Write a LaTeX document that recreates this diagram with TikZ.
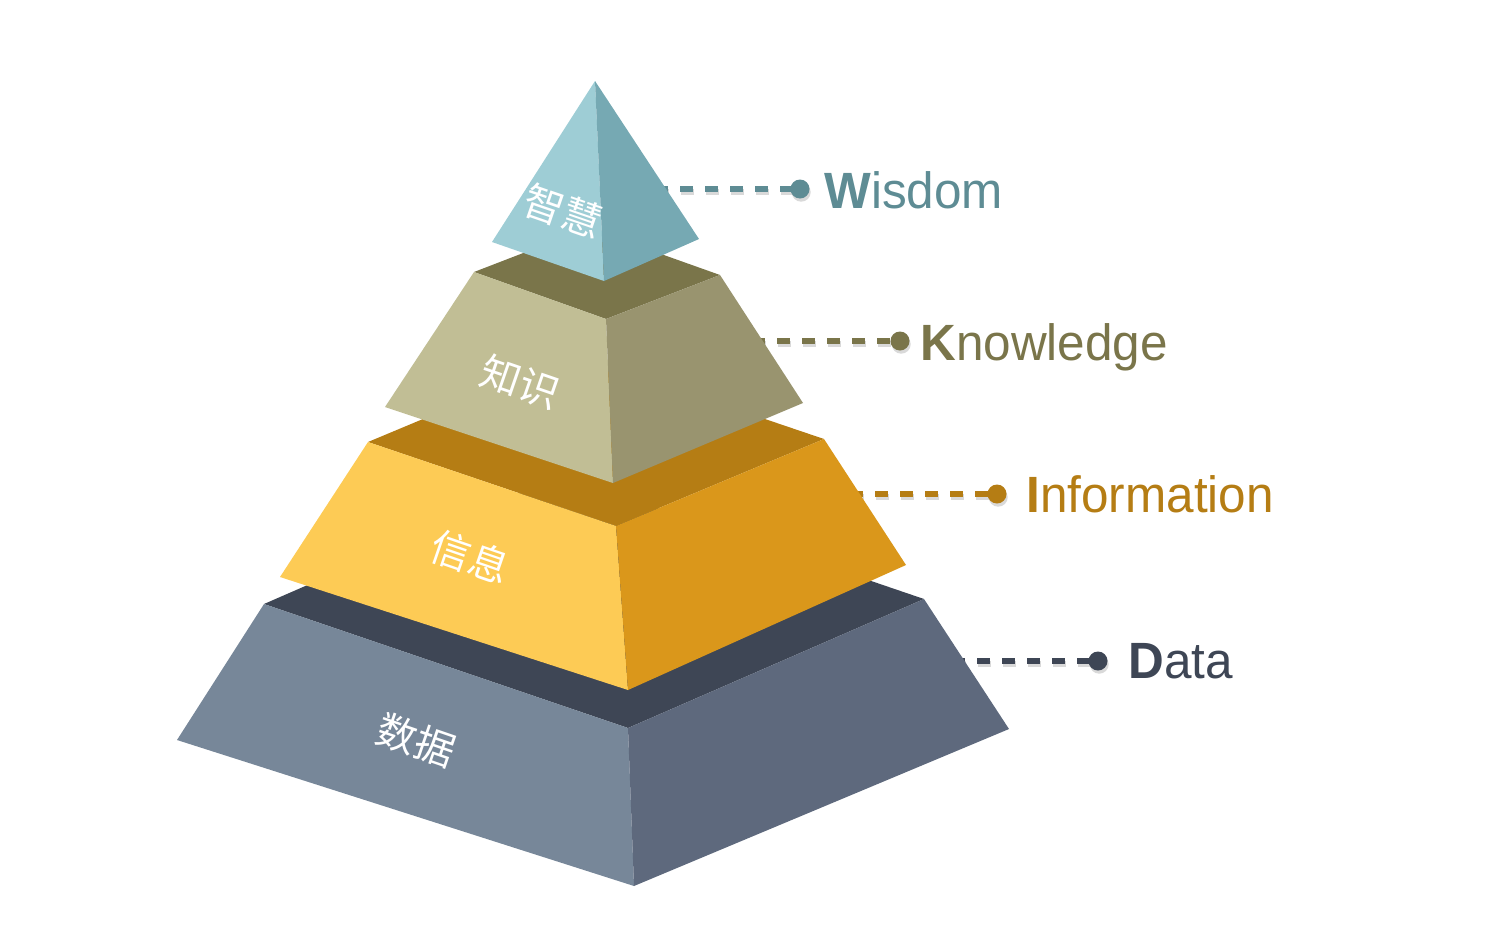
\documentclass[tikz,border=0pt]{standalone}
\usepackage{fontspec}
\setmainfont{Liberation Sans}
\newfontfamily\cjk{Noto Sans CJK SC}
\definecolor{wL}{HTML}{9ECDD5}
\definecolor{wR}{HTML}{76A9B3}
\definecolor{wT}{HTML}{5E8C94}
\definecolor{kT}{HTML}{7A754A}
\definecolor{kL}{HTML}{C1BE95}
\definecolor{kR}{HTML}{99946F}
\definecolor{iT}{HTML}{B57D14}
\definecolor{iL}{HTML}{FDCB55}
\definecolor{iR}{HTML}{DA971B}
\definecolor{dT}{HTML}{3E4655}
\definecolor{dL}{HTML}{778799}
\definecolor{dR}{HTML}{5E697D}
\tikzset{
  conn/.style={line width=3pt, dash pattern=on 6.5pt off 6pt},
  shadowconn/.style={conn, black, opacity=0.15, transform canvas={shift={(0.6pt,-1.6pt)}}},
  dotnode/.style={circle, inner sep=0pt, minimum size=9.5pt},
  shadowdot/.style={fill=black, opacity=0.15, transform canvas={shift={(0.6pt,-1.6pt)}}},
  lbl/.style={anchor=base west, inner sep=0pt, xscale=0.97, font=\fontsize{25.5}{25.5}\selectfont},
  cn/.style={text=white, rotate=-19, inner sep=0pt, font=\cjk\fontsize{20}{20}\selectfont},
}
\begin{document}
\begin{tikzpicture}[x=0.5pt,y=-0.5pt]
\useasboundingbox (0,0) rectangle (1498,937);
% ---------- connectors ----------
\coordinate (ws) at (655,189);
\coordinate (ks) at (752,341);
\coordinate (is) at (850,494);
\coordinate (ds) at (952,661);
\node[dotnode] (wd) at (800,189) {};
\node[dotnode] (kd) at (900,341) {};
\node[dotnode] (id) at (997,494) {};
\node[dotnode] (dd) at (1098,661) {};
\foreach \s/\d in {ws/wd,ks/kd,is/id,ds/dd}{
  \draw[shadowconn] (\s) -- (\d.center);
  \fill[shadowdot] (\d.center) circle (4.75pt);
}
\draw[conn, wT] (ws) -- (wd.center);
\draw[conn, kT] (ks) -- (kd.center);
\draw[conn, iT] (is) -- (id.center);
\draw[conn, dT] (ds) -- (dd.center);
\fill[wT] (wd.center) circle (4.75pt);
\fill[kT] (kd.center) circle (4.75pt);
\fill[iT] (id.center) circle (4.75pt);
\fill[dT] (dd.center) circle (4.75pt);
% ---------- labels ----------
\node[lbl, text=wT] (wlab) at (824,208) {\textbf{W}isdom};
\node[lbl, text=kT] (klab) at (920,360) {\textbf{K}nowledge};
\node[lbl, text=iT] (ilab) at (1026,512) {\textbf{I}nformation};
\node[lbl, text=dT] (dlab) at (1128,678) {\textbf{D}ata};
% ---------- Data layer ----------
\fill[dT] (264,604) -- (560,475) -- (924,599) -- (628,728) -- cycle;
\fill[dL] (264,604) -- (628,728) -- (634,886) -- (177,740) -- cycle;
\fill[dR] (628,728) -- (924,599) -- (1009,729) -- (634,886) -- cycle;
% ---------- Information layer ----------
\fill[iT] (368,442) -- (576,355) -- (824,439) -- (616,526) -- cycle;
\fill[iL] (368,442) -- (616,526) -- (628,690) -- (280,577) -- cycle;
\fill[iR] (616,526) -- (824,439) -- (906,565) -- (628,690) -- cycle;
% ---------- Knowledge layer ----------
\fill[kT] (474,272) -- (588,228) -- (720,275) -- (606,319) -- cycle;
\fill[kL] (474,272) -- (606,319) -- (613,483) -- (385,407) -- cycle;
\fill[kR] (606,319) -- (720,275) -- (803,403) -- (613,483) -- cycle;
% ---------- Wisdom pyramid ----------
\fill[wL] (595,81) -- (604,281) -- (492,242) -- cycle;
\fill[wR] (595,81) -- (699,239) -- (604,281) -- cycle;
% ---------- Chinese texts ----------
\node[cn] (t1) at (563,211) {智慧};
\node[cn] (t2) at (520,382) {知识};
\node[cn] (t3) at (470,557) {信息};
\node[cn] (t4) at (416,740) {数据};
\end{tikzpicture}
\end{document}
